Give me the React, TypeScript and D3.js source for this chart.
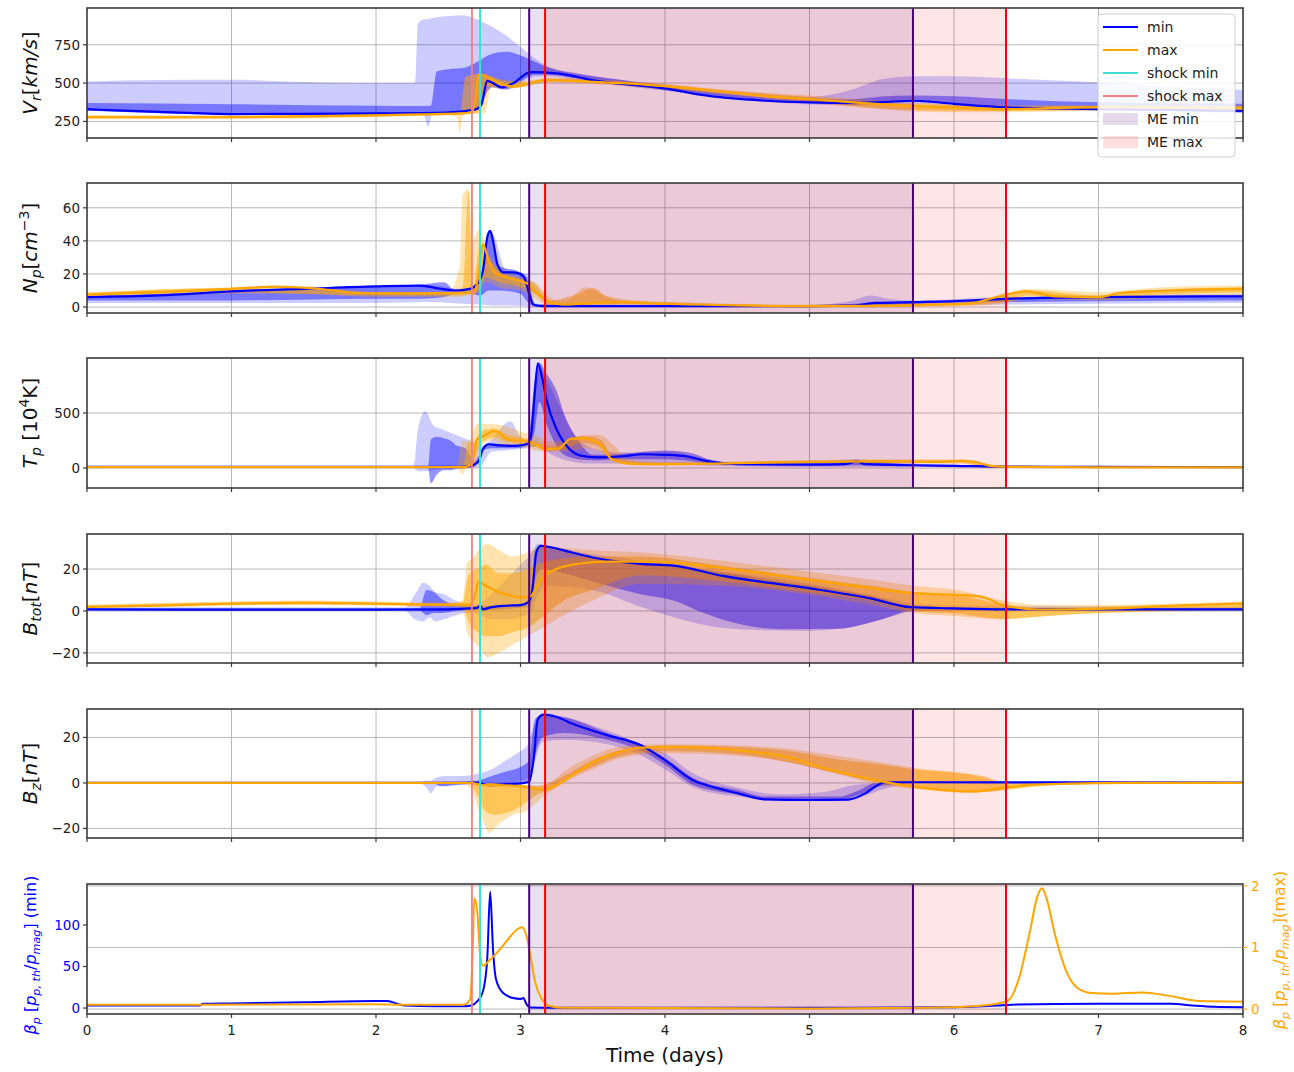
import React from 'react';
import * as d3 from 'd3';

type P = [number, number];
type B = [number, number, number];

// ---------- time markers (days) ----------
const shockMaxT = 2.664;
const shockMinT = 2.72;
const meMinStart = 3.06;
const meMinEnd = 5.716;
const meMaxStart = 3.17;
const meMaxEnd = 6.36;
const dayTicks = [0, 1, 2, 3, 4, 5, 6, 7, 8];

// ---------- Panel 1: Vr ----------
const vrTicks = [250, 500, 750];
const vrMinLine: P[] = [[0,330],[0.5,312],[1,298],[1.5,300],[2,303],[2.3,305],[2.5,310],[2.62,318],[2.7,332],[2.73,360],[2.77,515],[2.81,500],[2.87,472],[2.95,500],[3.07,572],[3.25,563],[3.55,511],[4.0,466],[4.24,425],[4.7,385],[5.0,374],[5.3,370],[5.5,376],[5.72,385],[6.0,365],[6.36,342],[6.7,335],[7.0,330],[7.5,325],[8.0,318]];
const vrMaxLine: P[] = [[0,278],[0.5,277],[1,278],[1.5,283],[2,290],[2.3,296],[2.6,302],[2.66,312],[2.69,400],[2.71,555],[2.76,545],[2.85,500],[2.96,478],[3.06,498],[3.17,520],[3.43,512],[3.7,500],[4.0,480],[4.4,445],[4.7,415],[5.0,395],[5.3,375],[5.72,350],[6.0,340],[6.36,330],[6.7,338],[7.0,342],[7.5,340],[8.0,338]];
const vrMinOuter: B[] = [[0,320,510],[0.5,305,520],[1,292,522],[1.5,292,508],[2.0,295,500],[2.27,298,500],[2.29,300,890],[2.33,290,915],[2.36,215,918],[2.39,300,925],[2.5,310,938],[2.6,315,942],[2.7,325,915],[2.8,470,870],[2.9,455,810],[3.0,490,735],[3.1,540,660],[3.2,545,605],[3.4,520,565],[3.6,495,535],[4.0,450,490],[4.5,395,440],[5.0,360,410],[5.3,355,460],[5.5,360,525],[5.72,365,545],[6.0,350,545],[6.4,330,530],[7.0,320,505],[7.5,315,478],[8.0,305,455]];
const vrMinInner: B[] = [[0,322,370],[1,296,362],[2,300,352],[2.3,302,350],[2.38,305,352],[2.42,310,575],[2.5,315,590],[2.62,318,602],[2.7,330,640],[2.8,475,690],[2.9,460,705],[3.0,510,680],[3.1,555,640],[3.2,555,600],[3.4,530,560],[3.7,495,520],[4.0,455,478],[4.5,405,422],[5.0,370,392],[5.3,365,395],[5.5,370,412],[5.72,378,420],[6.0,362,415],[6.4,340,395],[7.0,328,375],[8.0,310,365]];
const vrMaxOuter: B[] = [[0,265,292],[1,265,290],[2,278,305],[2.5,288,310],[2.56,282,310],[2.58,175,312],[2.6,285,315],[2.65,300,330],[2.68,300,560],[2.75,300,565],[2.8,470,545],[2.9,465,520],[3.0,470,515],[3.2,505,535],[3.5,495,525],[4.0,460,495],[4.5,420,450],[5.0,370,420],[5.5,330,385],[5.72,315,370],[6.0,310,365],[6.36,310,355],[7.0,318,355],[8.0,320,355]];
const vrMaxInner: B[] = [[0,272,285],[1,272,285],[2,284,298],[2.5,294,306],[2.58,296,308],[2.62,300,545],[2.7,305,555],[2.76,480,550],[2.9,470,510],[3.0,475,505],[3.2,510,528],[3.5,500,518],[4.0,468,490],[4.5,428,445],[5.0,380,410],[5.5,335,370],[5.72,325,362],[6.0,320,355],[6.36,318,345],[7.0,325,350],[8.0,325,348]];

// ---------- Panel 2: Np ----------
const npTicks = [0, 20, 40, 60];
const npMinLine: P[] = [[0,6],[0.5,7],[1,9.5],[1.5,11],[2,12.5],[2.3,13],[2.45,11],[2.55,10],[2.65,11],[2.7,14],[2.74,22],[2.77,42],[2.79,46],[2.81,40],[2.84,26],[2.88,21],[2.95,21],[3.0,20],[3.03,17],[3.06,8],[3.09,1.5],[3.15,0.5],[4,0.5],[5,0.5],[5.3,0.8],[5.45,2.5],[5.72,3],[6,3.5],[6.36,5],[6.6,5.5],[7,6],[8,6.5]];
const npMaxLine: P[] = [[0,7.5],[0.5,9],[1,11],[1.3,12.3],[1.6,11],[1.9,8.5],[2.3,8.3],[2.6,8.5],[2.68,9],[2.71,20],[2.74,38],[2.78,28],[2.82,21],[2.94,17],[3.05,14],[3.12,8],[3.2,3],[3.3,1.5],[3.5,2.5],[3.7,3],[4,2],[4.5,1],[5,0.5],[5.5,0.7],[5.9,1.5],[6.1,2],[6.25,5],[6.36,7.5],[6.5,9.5],[6.7,6.5],[7.0,6],[7.15,8.5],[7.5,10],[8,11]];
const npMinOuter: B[] = [[0,2.5,6.5],[1,2.5,9.5],[2,2.5,12.5],[2.35,3,13.5],[2.6,2,11],[2.72,1.5,15],[2.8,1,45],[2.9,1,22],[3.05,0.5,20],[3.1,0,2],[4,0,1],[5,0,1],[5.1,0,1.5],[5.3,0.3,4],[5.42,0.5,7],[5.55,1,5],[5.72,1,4],[6.36,1.5,6],[7,2,7],[8,2.5,8]];
const npMinInner: B[] = [[0,4,6.5],[1,4,9.5],[2,5,12.5],[2.3,5,13.5],[2.47,6,15],[2.55,8,10],[2.65,8,11],[2.72,7,15],[2.78,10,46],[2.85,10,25],[3.0,8,21],[3.05,3,17],[3.1,0.3,1.5],[4,0.3,0.8],[5,0.3,0.8],[5.3,0.5,2],[5.72,2,3.5],[6.36,3,5.5],[7,3.5,6.5],[8,4,7]];
const npMaxOuter: B[] = [[0,6,9],[1,8,12],[1.5,8,12.5],[2,6,9],[2.5,6,9],[2.58,6,25],[2.6,6,68],[2.64,7,71],[2.67,7,40],[2.7,8,46],[2.72,10,47],[2.76,15,36],[2.85,12,24],[3.0,10,18],[3.1,5,15],[3.2,1,6],[3.3,0.5,3],[3.45,1,12],[3.55,1,8],[3.7,1,5],[4,0.5,3],[5,0,1.5],[5.5,0,2],[6,0.5,3],[6.2,1,5],[6.4,3,9],[6.5,5,11],[7,4,9],[7.3,5,11],[7.6,6,12.5],[8,7,13]];
const npMaxInner: B[] = [[0,6.5,8.5],[1,9,11.5],[2,7,9],[2.5,7,9],[2.6,7,12],[2.64,8,70],[2.67,8,12],[2.72,12,38],[2.76,18,32],[2.85,15,22],[3.0,12,17],[3.1,8,14],[3.2,1.5,4],[3.4,1,8],[3.5,1.5,11.5],[3.6,1.5,6],[3.7,2,4],[4,1,3],[5,0.3,1],[6,1,2.5],[6.4,4,8],[6.5,7,10],[7,5,7],[7.3,7,10],[8,9,12]];

// ---------- Panel 3: Tp ----------
const tpTicks = [0, 500];
const tpMinLine: P[] = [[0,10],[2.6,10],[2.67,25],[2.71,60],[2.74,171],[2.78,216],[2.85,205],[2.96,200],[3.04,216],[3.07,270],[3.1,700],[3.12,952],[3.15,820],[3.18,620],[3.25,350],[3.32,200],[3.41,115],[3.53,96],[3.7,105],[3.85,125],[4.0,120],[4.15,105],[4.3,60],[4.5,35],[5.0,30],[5.25,35],[5.33,60],[5.38,35],[5.72,25],[6,20],[6.36,12],[7,10],[8,8]];
const tpMaxLine: P[] = [[0,8],[2.62,8],[2.66,36],[2.7,260],[2.76,300],[2.81,336],[2.85,323],[2.9,265],[2.97,250],[3.03,246],[3.1,215],[3.17,171],[3.26,175],[3.35,267],[3.44,270],[3.55,215],[3.63,81],[3.72,45],[3.85,35],[4,35],[4.5,45],[5,55],[5.5,60],[5.9,55],[6.05,65],[6.15,55],[6.25,20],[6.4,10],[7,6],[8,5]];
const tpMinOuter: B[] = [[0,0,15],[2.26,0,15],[2.29,-30,350],[2.34,-30,516],[2.4,-20,381],[2.46,-10,351],[2.57,-5,291],[2.65,0,250],[2.72,10,200],[2.8,150,260],[2.9,160,410],[2.93,165,426],[2.99,170,306],[3.04,180,240],[3.08,190,480],[3.12,200,950],[3.18,150,800],[3.25,100,620],[3.35,60,350],[3.5,40,180],[3.7,40,140],[4.0,40,150],[4.3,20,80],[4.5,15,45],[5,10,50],[5.3,10,80],[5.5,10,60],[5.72,10,40],[6.36,5,20],[8,0,15]];
const tpMinInner: B[] = [[0,5,12],[2.36,5,12],[2.38,-140,260],[2.42,-60,285],[2.47,-20,270],[2.52,-20,245],[2.55,-10,210],[2.62,0,180],[2.68,10,60],[2.74,160,180],[2.8,180,225],[2.9,180,215],[3.0,185,220],[3.05,200,240],[3.1,350,820],[3.13,600,955],[3.18,400,860],[3.25,200,700],[3.3,120,500],[3.4,80,250],[3.5,70,120],[3.7,80,130],[4.0,80,160],[4.2,60,130],[4.3,40,80],[4.5,25,45],[5,20,40],[5.33,25,65],[5.72,18,30],[6.36,8,15],[8,5,12]];
const tpMaxOuter: B[] = [[0,0,15],[2.5,0,15],[2.56,0,30],[2.6,-60,250],[2.62,-10,240],[2.65,0,260],[2.7,150,400],[2.8,250,400],[2.9,200,380],[3.0,190,330],[3.1,160,300],[3.2,150,240],[3.3,150,250],[3.45,180,300],[3.55,150,300],[3.65,60,200],[3.75,30,80],[4,25,55],[5,40,70],[5.5,45,80],[6.05,40,80],[6.2,10,40],[6.4,5,15],[8,0,12]];
const tpMaxInner: B[] = [[0,4,12],[2.6,4,12],[2.64,10,230],[2.68,20,240],[2.72,220,330],[2.82,280,360],[2.9,240,310],[3.0,220,280],[3.1,190,250],[3.2,160,200],[3.3,170,220],[3.42,230,290],[3.55,190,260],[3.63,70,120],[3.75,35,60],[4,30,45],[5,45,65],[5.5,50,70],[6.05,50,70],[6.2,15,30],[6.4,6,12],[8,3,8]];

// ---------- Panel 4: Btot ----------
const btTicks = [-20, 0, 20];
const btMinLine: P[] = [[0,0.8],[1,0.6],[2,0.6],[2.5,0.8],[2.65,1.2],[2.7,1.5],[2.72,2.5],[2.74,0.8],[2.8,1.8],[2.9,2.5],[3.0,2.8],[3.05,4],[3.08,9],[3.11,28],[3.14,31],[3.2,30.5],[3.35,28],[3.5,25.5],[3.83,22.5],[4.06,21.6],[4.4,16.7],[4.98,11],[5.42,6],[5.7,1.8],[6.0,1.2],[6.34,0.8],[7,0.8],[8,0.8]];
const btMaxLine: P[] = [[0,2],[0.5,2.5],[1,3.5],[1.5,4],[2,3.5],[2.5,3],[2.64,3],[2.68,6],[2.71,14],[2.76,12],[2.85,9],[2.95,7],[3.0,6.5],[3.07,7],[3.1,10],[3.15,16],[3.25,20],[3.4,22.5],[3.6,23.5],[3.9,23.5],[4.4,20.5],[4.98,15],[5.42,11],[5.72,8.5],[6.02,7.7],[6.2,6.6],[6.34,2.8],[6.6,0.7],[7,1],[7.5,2.5],[8,3.6]];
const btMinOuter: B[] = [[0,0,1.8],[2.2,0,1.8],[2.27,-4,8],[2.33,-5,13.5],[2.37,-3,12],[2.41,-5,9],[2.47,-4,8],[2.55,-2,5],[2.65,-1,3],[2.72,-2,4],[2.8,-4,8],[2.9,-4,15],[3.0,-3,22],[3.08,0,28],[3.12,8,32],[3.2,12,31],[3.5,10,27],[3.83,2,24],[4.06,-3,22],[4.3,-7,19],[4.6,-9,17],[5.0,-9.5,13],[5.4,-6,8],[5.6,-2,5],[5.72,0,3.5],[6.36,0,2.5],[8,0,2]];
const btMinInner: B[] = [[0,0.3,1.2],[2.3,0.3,1.2],[2.35,-2,10],[2.4,-1,9],[2.45,-1,6],[2.55,0,3],[2.7,0.5,2.5],[2.8,0.5,2.5],[3.0,1.5,3.5],[3.07,2,7],[3.1,15,29],[3.15,20,31.5],[3.3,18,29],[3.5,14,26],[3.83,8,23],[4.06,5,22],[4.25,-0.5,20],[4.5,-6,17.5],[4.8,-8.7,14],[5.2,-8.5,10],[5.5,-4,6],[5.7,0,2.5],[6.36,0.3,1.5],[8,0.3,1.5]];
const btMaxOuter: B[] = [[0,1.5,3],[1,2.5,4.5],[1.5,3,5],[2,2.5,4.5],[2.5,2,4],[2.6,1,5],[2.63,-10,23],[2.68,-15,26],[2.72,-18,30],[2.77,-22,32],[2.85,-20,29],[2.95,-16,26],[3.05,-12,28],[3.15,-8,31],[3.3,-2,30],[3.5,5,29],[3.83,13,28],[4.4,12,24],[4.98,8,19],[5.42,3,15],[5.72,-1,12],[6.02,-2.5,10],[6.34,-4,5],[6.6,-2.5,3],[7,-1,3],[8,0,4.5]];
const btMaxInner: B[] = [[0,1.5,2.5],[1,3,4],[2,3,4],[2.5,2.5,3.5],[2.6,2,4],[2.64,-5,17],[2.7,-10,20],[2.76,-12,22],[2.85,-12,18],[2.95,-10,18],[3.05,-8,20],[3.15,-3,23],[3.3,5,25],[3.5,10,26],[3.83,17,26],[4.4,14,21.5],[4.98,9,16],[5.42,5,12],[5.72,0,9],[6.02,-1.3,7.7],[6.34,-3.8,3],[6.6,-2.6,1.5],[7,-1,2],[8,1,4]];

// ---------- Panel 5: Bz ----------
const bzTicks = [-20, 0, 20];
const bzMinLine: P[] = [[0,0],[2.6,0],[2.7,0.2],[2.74,-0.5],[2.78,-1],[2.9,-0.5],[3.0,-0.2],[3.06,0.5],[3.09,10],[3.12,28],[3.16,30],[3.25,29],[3.36,26],[3.6,21],[3.84,16.3],[4.0,10],[4.2,1],[4.29,-1],[4.5,-4.5],[4.69,-7.2],[5.0,-7.5],[5.27,-7.3],[5.39,-4.4],[5.47,-1],[5.52,0.3],[5.72,0.3],[8,0.2]];
const bzMaxLine: P[] = [[0,0],[2.66,0],[2.7,-0.5],[2.75,-1],[2.85,-1],[3.0,-1.5],[3.1,-2.5],[3.17,-3],[3.25,-1],[3.35,3],[3.5,9],[3.65,13],[3.84,15.5],[4.1,15.8],[4.43,14.8],[4.86,11.1],[5.13,6],[5.5,0.7],[5.7,-1.5],[6.14,-3.7],[6.34,-2.2],[6.5,-1],[6.8,-0.3],[7.2,0],[8,0]];
const bzMinOuter: B[] = [[0,-0.3,0.3],[2.3,-0.3,0.3],[2.35,-2,1],[2.38,-4.5,1],[2.42,-1.5,2.5],[2.5,-1,3],[2.6,-0.5,3],[2.7,-0.5,4],[2.8,-1,6],[2.9,0,10],[3.0,1,14],[3.05,2,17],[3.1,10,26],[3.15,18,30],[3.3,19,29],[3.6,17,23],[3.84,12,17],[4.0,6,13],[4.2,-2,4],[4.5,-6,-2],[4.8,-7.5,-5],[5.1,-7.5,-4],[5.3,-7,-1],[5.5,-3,0],[5.72,0,0.5],[8,-0.2,0.4]];
const bzMinInner: B[] = [[0,-0.2,0.2],[2.4,-0.2,0.2],[2.45,-1.5,0.5],[2.55,-1,0.5],[2.7,-0.5,1],[2.8,-1,3],[2.9,-0.5,5],[3.0,0,7],[3.06,0.5,10],[3.1,12,28],[3.15,20,30],[3.3,22,29],[3.6,19,22],[3.84,14,16.5],[4.0,8,11],[4.2,-1,2],[4.5,-5,-3],[4.7,-7.2,-6],[5.2,-7.5,-6],[5.35,-5,-3],[5.45,-2,0],[5.72,0,0.4],[8,0,0.3]];
const bzMaxOuter: B[] = [[0,-0.3,0.3],[2.6,-0.3,0.3],[2.66,-3,0.5],[2.7,-10,0.5],[2.75,-18,0],[2.78,-22,0],[2.85,-18,0],[2.95,-14,-0.5],[3.05,-12,-1],[3.12,-8,-1],[3.2,-4,0],[3.3,0,5],[3.5,6,12],[3.7,11,16],[4.0,13,17],[4.5,12,16.5],[4.86,9,15],[5.13,5,12.5],[5.5,-1,9],[5.8,-3,6],[6.1,-4.5,4],[6.2,-4,2],[6.36,-3,0.5],[6.6,-1.5,0.5],[7.2,-0.3,0.3],[8,-0.3,0.3]];
const bzMaxInner: B[] = [[0,-0.2,0.2],[2.64,-0.2,0.2],[2.7,-5,0],[2.75,-12,0],[2.82,-14,0],[2.95,-12,-0.5],[3.05,-8,-1],[3.12,-5,-1.5],[3.2,-3,0],[3.3,1,3],[3.5,7,10],[3.7,12,14.5],[4.0,14,16.5],[4.43,13,16],[4.86,9,14],[5.13,5,11],[5.5,0,8],[5.72,-2,6],[6.0,-3.5,4.5],[6.2,-4,3],[6.36,-3,0],[6.6,-1.2,0],[7.2,-0.2,0.2],[8,-0.2,0.2]];

// ---------- Panel 6: beta ----------
const betaLeftTicks = [0, 50, 100];
const betaRightTicks = [0, 1, 2];
const betaMinLine: P[] = [[0,3],[0.78,3],[0.8,5],[1,5.5],[1.5,7],[2,8.5],[2.08,8.5],[2.15,5],[2.2,3],[2.4,2],[2.6,2],[2.66,3],[2.7,8],[2.74,20],[2.77,60],[2.79,140],[2.81,70],[2.83,35],[2.88,18],[2.95,12],[3.0,11],[3.02,12],[3.04,5],[3.07,0.5],[3.2,0.3],[5,0.3],[6.0,1],[6.3,3],[6.4,4],[7,5],[7.5,5],[7.65,3],[7.8,1.5],[8,1]];
const betaMaxLine: P[] = [[0,0.07],[0.8,0.07],[2.0,0.08],[2.2,0.07],[2.6,0.07],[2.65,0.15],[2.67,1.0],[2.68,1.8],[2.7,1.6],[2.72,0.9],[2.74,0.7],[2.78,0.78],[2.85,0.95],[2.92,1.15],[2.98,1.3],[3.01,1.33],[3.04,1.2],[3.07,0.85],[3.1,0.45],[3.15,0.15],[3.2,0.05],[3.3,0.02],[5.0,0.01],[5.8,0.02],[6.1,0.04],[6.3,0.09],[6.37,0.13],[6.45,0.5],[6.52,1.2],[6.58,1.85],[6.61,1.96],[6.64,1.8],[6.7,1.2],[6.78,0.6],[6.85,0.35],[6.95,0.26],[7.1,0.25],[7.3,0.27],[7.5,0.21],[7.7,0.13],[8,0.12]];

// ---------- styling ----------
const BLUE = '#0000ff';
const ORANGE = '#ffa500';
const SHOCK_MIN = '#40e0d0';
const SHOCK_MAX = '#f08080';
const ME_MIN = '#4b0082';
const ME_MAX = '#ff0000';
const FONT = 'DejaVu Sans, sans-serif';
const X0 = 87, X1 = 1243;
const xScale = d3.scaleLinear().domain([0, 8]).range([X0, X1]);

type Part = { t: string; it?: boolean; sub?: boolean; sup?: boolean };
function MathText({ parts, size }: { parts: Part[]; size: number }) {
  let off = 0;
  return (
    <>
      {parts.map((p, i) => {
        const target = p.sub ? size * 0.22 : p.sup ? -size * 0.42 : 0;
        const dy = target - off;
        off = target;
        return (
          <tspan key={i} dy={dy} fontStyle={p.it ? 'italic' : 'normal'} fontSize={p.sub || p.sup ? size * 0.7 : size}>
            {p.t}
          </tspan>
        );
      })}
    </>
  );
}

const vrLabel: Part[] = [{ t: 'V', it: true }, { t: 'r', it: true, sub: true }, { t: '[', it: false }, { t: 'km/s', it: true }, { t: ']' }];
const npLabel: Part[] = [{ t: 'N', it: true }, { t: 'p', it: true, sub: true }, { t: '[' }, { t: 'cm', it: true }, { t: '−3', sup: true }, { t: ']' }];
const tpLabel: Part[] = [{ t: 'T', it: true }, { t: 'p', it: true, sub: true }, { t: ' [10' }, { t: '4', sup: true }, { t: 'K]' }];
const btLabel: Part[] = [{ t: 'B', it: true }, { t: 'tot', it: true, sub: true }, { t: '[' }, { t: 'nT', it: true }, { t: ']' }];
const bzLabel: Part[] = [{ t: 'B', it: true }, { t: 'z', it: true, sub: true }, { t: '[' }, { t: 'nT', it: true }, { t: ']' }];
const betaMinLabel: Part[] = [{ t: 'β', it: true }, { t: 'p', it: true, sub: true }, { t: ' [' }, { t: 'p', it: true }, { t: 'p, th', it: true, sub: true }, { t: '/' }, { t: 'p', it: true }, { t: 'mag', it: true, sub: true }, { t: '] (min)' }];
const betaMaxLabel: Part[] = [{ t: 'β', it: true }, { t: 'p', it: true, sub: true }, { t: ' [' }, { t: 'p', it: true }, { t: 'p, th', it: true, sub: true }, { t: '/' }, { t: 'p', it: true }, { t: 'mag', it: true, sub: true }, { t: '](max)' }];

interface PanelCfg {
  top: number; bottom: number; domain: [number, number]; ticks: number[]; label: Part[];
  minLine: P[]; maxLine: P[]; minOuter: B[]; minInner: B[]; maxOuter: B[]; maxInner: B[];
}

const panels: PanelCfg[] = [
  { top: 8, bottom: 138, domain: [142, 990], ticks: vrTicks, label: vrLabel, minLine: vrMinLine, maxLine: vrMaxLine, minOuter: vrMinOuter, minInner: vrMinInner, maxOuter: vrMaxOuter, maxInner: vrMaxInner },
  { top: 183, bottom: 313, domain: [-3.6, 75], ticks: npTicks, label: npLabel, minLine: npMinLine, maxLine: npMaxLine, minOuter: npMinOuter, minInner: npMinInner, maxOuter: npMaxOuter, maxInner: npMaxInner },
  { top: 358, bottom: 488, domain: [-182, 1000], ticks: tpTicks, label: tpLabel, minLine: tpMinLine, maxLine: tpMaxLine, minOuter: tpMinOuter, minInner: tpMinInner, maxOuter: tpMaxOuter, maxInner: tpMaxInner },
  { top: 534, bottom: 663, domain: [-24.8, 36.7], ticks: btTicks, label: btLabel, minLine: btMinLine, maxLine: btMaxLine, minOuter: btMinOuter, minInner: btMinInner, maxOuter: btMaxOuter, maxInner: btMaxInner },
  { top: 709, bottom: 838, domain: [-24.2, 32.5], ticks: bzTicks, label: bzLabel, minLine: bzMinLine, maxLine: bzMaxLine, minOuter: bzMinOuter, minInner: bzMinInner, maxOuter: bzMaxOuter, maxInner: bzMaxInner },
];

function Spans({ top, bottom }: { top: number; bottom: number }) {
  return (
    <g>
      <rect x={xScale(meMinStart)} y={top} width={xScale(meMinEnd) - xScale(meMinStart)} height={bottom - top} fill={ME_MIN} fillOpacity={0.12} />
      <rect x={xScale(meMaxStart)} y={top} width={xScale(meMaxEnd) - xScale(meMaxStart)} height={bottom - top} fill={ME_MAX} fillOpacity={0.1} />
    </g>
  );
}

function VLines({ top, bottom }: { top: number; bottom: number }) {
  const items: [number, string, number][] = [
    [shockMaxT, SHOCK_MAX, 1.8], [shockMinT, SHOCK_MIN, 2],
    [meMinStart, ME_MIN, 2], [meMinEnd, ME_MIN, 2],
    [meMaxStart, ME_MAX, 2], [meMaxEnd, ME_MAX, 2],
  ];
  return (
    <g>
      {items.map(([t, c, w], i) => (
        <line key={i} x1={xScale(t)} x2={xScale(t)} y1={top} y2={bottom} stroke={c} strokeWidth={w} />
      ))}
    </g>
  );
}

function Frame({ top, bottom }: { top: number; bottom: number }) {
  return (
    <g>
      <rect x={X0} y={top} width={X1 - X0} height={bottom - top} fill="none" stroke="#3a3a3a" strokeWidth={1.6} />
      {dayTicks.map((d) => (
        <line key={d} x1={xScale(d)} x2={xScale(d)} y1={bottom} y2={bottom + 4} stroke="#3a3a3a" strokeWidth={1.2} />
      ))}
    </g>
  );
}

function Panel({ cfg, idx }: { cfg: PanelCfg; idx: number }) {
  const y = d3.scaleLinear().domain(cfg.domain).range([cfg.bottom, cfg.top]);
  const line = d3.line<P>().x((d) => xScale(d[0])).y((d) => y(d[1])).curve(d3.curveMonotoneX);
  const area = d3.area<B>().x((d) => xScale(d[0])).y0((d) => y(d[1])).y1((d) => y(d[2])).curve(d3.curveMonotoneX);
  const clipId = `clip${idx}`;
  const cy = (cfg.top + cfg.bottom) / 2;
  return (
    <g>
      <defs>
        <clipPath id={clipId}>
          <rect x={X0} y={cfg.top} width={X1 - X0} height={cfg.bottom - cfg.top} />
        </clipPath>
      </defs>
      <g clipPath={`url(#${clipId})`}>
        {dayTicks.slice(1, -1).map((d) => (
          <line key={'v' + d} x1={xScale(d)} x2={xScale(d)} y1={cfg.top} y2={cfg.bottom} stroke="#b8b8b8" strokeWidth={1} />
        ))}
        {cfg.ticks.map((t) => (
          <line key={'h' + t} x1={X0} x2={X1} y1={y(t)} y2={y(t)} stroke="#b8b8b8" strokeWidth={1} />
        ))}
        <path d={area(cfg.minOuter) || ''} fill={BLUE} fillOpacity={0.2} />
        <path d={area(cfg.minInner) || ''} fill={BLUE} fillOpacity={0.42} />
        <path d={area(cfg.maxOuter) || ''} fill={ORANGE} fillOpacity={0.3} />
        <path d={area(cfg.maxInner) || ''} fill={ORANGE} fillOpacity={0.5} />
        <Spans top={cfg.top} bottom={cfg.bottom} />
        <path d={line(cfg.minLine) || ''} fill="none" stroke={BLUE} strokeWidth={2.2} />
        <path d={line(cfg.maxLine) || ''} fill="none" stroke={ORANGE} strokeWidth={2.2} />
        <VLines top={cfg.top} bottom={cfg.bottom} />
      </g>
      <Frame top={cfg.top} bottom={cfg.bottom} />
      {cfg.ticks.map((t) => (
        <g key={'t' + t}>
          <line x1={X0 - 4} x2={X0} y1={y(t)} y2={y(t)} stroke="#3a3a3a" strokeWidth={1.2} />
          <text x={X0 - 7} y={y(t)} dy="0.35em" textAnchor="end" fontSize={13.5} fill="#222" fontFamily={FONT}>
            {t < 0 ? '−' + Math.abs(t) : t}
          </text>
        </g>
      ))}
      <text transform={`translate(37,${cy}) rotate(-90)`} textAnchor="middle" fontSize={20} fill="#111" fontFamily={FONT}>
        <MathText parts={cfg.label} size={20} />
      </text>
    </g>
  );
}

function BetaPanel() {
  const top = 884, bottom = 1014;
  const yL = d3.scaleLinear().domain([-7.2, 149.4]).range([bottom, top]);
  const yR = d3.scaleLinear().domain([-0.08, 2.03]).range([bottom, top]);
  const lineL = d3.line<P>().x((d) => xScale(d[0])).y((d) => yL(d[1])).curve(d3.curveMonotoneX);
  const lineR = d3.line<P>().x((d) => xScale(d[0])).y((d) => yR(d[1])).curve(d3.curveMonotoneX);
  return (
    <g>
      <defs>
        <clipPath id="clip6">
          <rect x={X0} y={top} width={X1 - X0} height={bottom - top} />
        </clipPath>
      </defs>
      <g clipPath="url(#clip6)">
        {betaRightTicks.map((t) => (
          <line key={'h' + t} x1={X0} x2={X1} y1={yR(t)} y2={yR(t)} stroke="#b8b8b8" strokeWidth={1} />
        ))}
        <Spans top={top} bottom={bottom} />
        <path d={lineL(betaMinLine) || ''} fill="none" stroke={BLUE} strokeWidth={2} />
        <path d={lineR(betaMaxLine) || ''} fill="none" stroke={ORANGE} strokeWidth={2} />
        <VLines top={top} bottom={bottom} />
      </g>
      <Frame top={top} bottom={bottom} />
      {betaLeftTicks.map((t) => (
        <g key={'l' + t}>
          <line x1={X0 - 4} x2={X0} y1={yL(t)} y2={yL(t)} stroke="#3a3a3a" strokeWidth={1.2} />
          <text x={X0 - 7} y={yL(t)} dy="0.35em" textAnchor="end" fontSize={13.5} fill={BLUE} fontFamily={FONT}>{t}</text>
        </g>
      ))}
      {betaRightTicks.map((t) => (
        <g key={'r' + t}>
          <line x1={X1} x2={X1 + 4} y1={yR(t)} y2={yR(t)} stroke={ORANGE} strokeWidth={1.2} />
          <text x={X1 + 8} y={yR(t)} dy="0.35em" textAnchor="start" fontSize={13.5} fill={ORANGE} fontFamily={FONT}>{t}</text>
        </g>
      ))}
      {dayTicks.map((d) => (
        <text key={'x' + d} x={xScale(d)} y={bottom + 21} textAnchor="middle" fontSize={13.5} fill="#222" fontFamily={FONT}>{d}</text>
      ))}
      <text x={(X0 + X1) / 2} y={1062} textAnchor="middle" fontSize={20} fill="#111" fontFamily={FONT}>Time (days)</text>
      <text transform={`translate(36,955) rotate(-90)`} textAnchor="middle" fontSize={16} fill={BLUE} fontFamily={FONT}>
        <MathText parts={betaMinLabel} size={16} />
      </text>
      <text transform={`translate(1285,950) rotate(-90)`} textAnchor="middle" fontSize={16} fill={ORANGE} fontFamily={FONT}>
        <MathText parts={betaMaxLabel} size={16} />
      </text>
    </g>
  );
}

const legendItems: { label: string; color: string; kind: 'line' | 'patch'; opacity: number }[] = [
  { label: 'min', color: BLUE, kind: 'line', opacity: 1 },
  { label: 'max', color: ORANGE, kind: 'line', opacity: 1 },
  { label: 'shock min', color: SHOCK_MIN, kind: 'line', opacity: 1 },
  { label: 'shock max', color: SHOCK_MAX, kind: 'line', opacity: 1 },
  { label: 'ME min', color: ME_MIN, kind: 'patch', opacity: 0.14 },
  { label: 'ME max', color: ME_MAX, kind: 'patch', opacity: 0.12 },
];

function Legend() {
  const x = 1098, y = 14;
  return (
    <g>
      <rect x={x} y={y} width={137} height={143} rx={4} fill="#ffffff" fillOpacity={0.85} stroke="#d0d0d0" strokeWidth={1} />
      {legendItems.map((it, i) => {
        const cy = y + 13 + i * 23;
        return (
          <g key={it.label}>
            {it.kind === 'line' ? (
              <line x1={x + 5} x2={x + 40} y1={cy} y2={cy} stroke={it.color} strokeWidth={2.2} />
            ) : (
              <rect x={x + 5} y={cy - 6} width={35} height={12} fill={it.color} fillOpacity={it.opacity} />
            )}
            <text x={x + 49} y={cy} dy="0.35em" fontSize={14} fill="#222" fontFamily={FONT}>{it.label}</text>
          </g>
        );
      })}
    </g>
  );
}

export default function App() {
  return (
    <svg width={1294} height={1072} style={{ position: 'absolute', left: 0, top: 0, background: '#fff' }} fontFamily={FONT}>
      <rect x={0} y={0} width={1294} height={1072} fill="#fff" />
      {panels.map((p, i) => (
        <Panel key={i} cfg={p} idx={i} />
      ))}
      <BetaPanel />
      <Legend />
    </svg>
  );
}
